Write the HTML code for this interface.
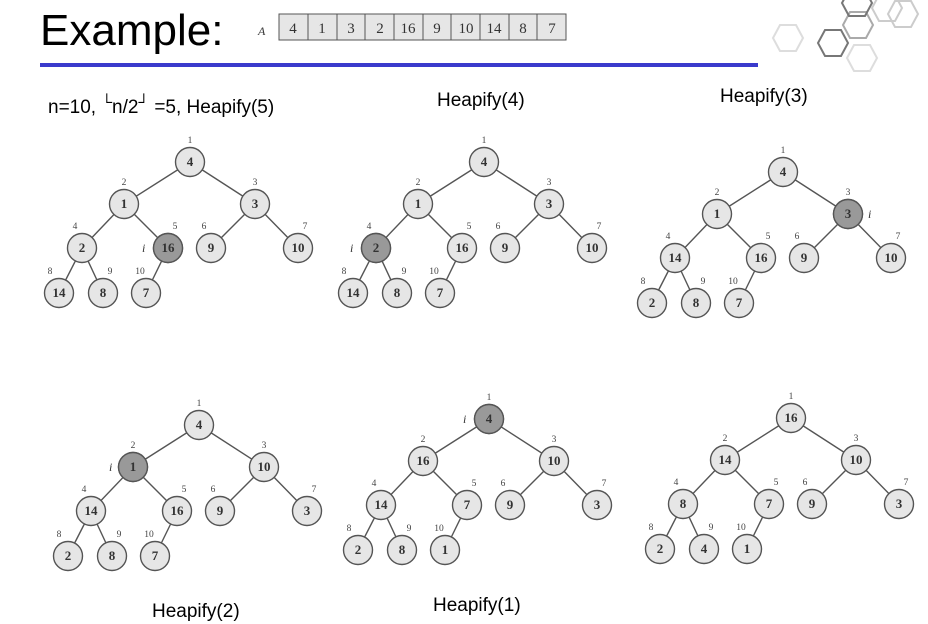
<!DOCTYPE html>
<html><head><meta charset="utf-8"><style>
html,body{margin:0;padding:0;background:#fff;}
svg{display:block;}
.t{font-family:"Liberation Serif",serif;font-weight:bold;font-size:13px;fill:#333;text-anchor:middle;}
.ix{font-family:"Liberation Serif",serif;font-size:9.5px;fill:#444;text-anchor:middle;}
.ii{font-family:"Liberation Serif",serif;font-style:italic;font-size:12px;fill:#333;}
.h{font-family:"Liberation Sans",sans-serif;font-size:19px;fill:#000;}
</style></head><body>
<svg width="928" height="624" viewBox="0 0 928 624" xmlns="http://www.w3.org/2000/svg">
<defs>
<g id="tree">
<g stroke="#555" stroke-width="1.4">
<line x1="0" y1="0" x2="-66" y2="42"/><line x1="0" y1="0" x2="65" y2="42"/>
<line x1="-66" y1="42" x2="-108" y2="86"/><line x1="-66" y1="42" x2="-22" y2="86"/>
<line x1="65" y1="42" x2="21" y2="86"/><line x1="65" y1="42" x2="108" y2="86"/>
<line x1="-108" y1="86" x2="-131" y2="131"/><line x1="-108" y1="86" x2="-87" y2="131"/>
<line x1="-22" y1="86" x2="-44" y2="131"/>
</g>
<g fill="#e6e6e6" stroke="#555" stroke-width="1.4">
<circle cx="0" cy="0" r="14.5"/><circle cx="-66" cy="42" r="14.5"/><circle cx="65" cy="42" r="14.5"/>
<circle cx="-108" cy="86" r="14.5"/><circle cx="-22" cy="86" r="14.5"/><circle cx="21" cy="86" r="14.5"/><circle cx="108" cy="86" r="14.5"/>
<circle cx="-131" cy="131" r="14.5"/><circle cx="-87" cy="131" r="14.5"/><circle cx="-44" cy="131" r="14.5"/>
</g>
<g class="ix">
<text x="0" y="-19">1</text><text x="-66" y="23">2</text><text x="65" y="23">3</text>
<text x="-115" y="67">4</text><text x="-15" y="67">5</text><text x="14" y="67">6</text><text x="115" y="67">7</text>
<text x="-140" y="112">8</text><text x="-80" y="112">9</text><text x="-50" y="112">10</text>
</g>
</g>
</defs>

<text x="40" y="45" font-family="Liberation Sans, sans-serif" font-size="44" fill="#000">Example:</text>
<text x="258" y="35" font-family="Liberation Serif, serif" font-style="italic" font-size="12" fill="#333">A</text>
<g fill="#e6e6e6" stroke="#555" stroke-width="1">
<rect x="279" y="14" width="287" height="26"/>
</g>
<g stroke="#555" stroke-width="1">
<line x1="308" y1="14" x2="308" y2="40"/><line x1="337" y1="14" x2="337" y2="40"/><line x1="365" y1="14" x2="365" y2="40"/>
<line x1="394" y1="14" x2="394" y2="40"/><line x1="423" y1="14" x2="423" y2="40"/><line x1="451" y1="14" x2="451" y2="40"/>
<line x1="480" y1="14" x2="480" y2="40"/><line x1="509" y1="14" x2="509" y2="40"/><line x1="537" y1="14" x2="537" y2="40"/>
</g>
<g font-family="Liberation Serif, serif" font-size="15" fill="#333" text-anchor="middle">
<text x="293" y="33">4</text><text x="322" y="33">1</text><text x="351" y="33">3</text><text x="380" y="33">2</text><text x="408" y="33">16</text>
<text x="437" y="33">9</text><text x="466" y="33">10</text><text x="494" y="33">14</text><text x="523" y="33">8</text><text x="552" y="33">7</text>
</g>
<rect x="40" y="63" width="718" height="4" fill="#3a3acc"/>

<g fill="none" stroke-width="2">
<polygon stroke="#ddd" points="773,38 780,25 796,25 803,38 796,51 780,51"/>
<polygon stroke="#777" points="818,43 825,30 841,30 848,43 841,56 825,56"/>
<polygon stroke="#aaa" points="843,25 850,12 866,12 873,25 866,38 850,38"/>
<polygon stroke="#777" points="842,3 849,-10 865,-10 872,3 865,16 849,16"/>
<polygon stroke="#ccc" points="888,14 895,1 911,1 918,14 911,27 895,27"/>
<polygon stroke="#ccc" points="872,8 879,-5 895,-5 902,8 895,21 879,21"/>
<polygon stroke="#ddd" points="847,58 854,45 870,45 877,58 870,71 854,71"/>
</g>

<text class="h" x="48" y="113">n=10,  <tspan font-size="15" dy="-6">└</tspan><tspan dy="6">n/2</tspan><tspan font-size="15" dy="-6">┘</tspan><tspan dy="6"> =5, Heapify(5)</tspan></text>
<text class="h" x="437" y="106">Heapify(4)</text>
<text class="h" x="720" y="102">Heapify(3)</text>
<text class="h" x="152" y="617">Heapify(2)</text>
<text class="h" x="433" y="611">Heapify(1)</text>

<g transform="translate(190,162)">
<use href="#tree"/>
<circle cx="-22" cy="86" r="14.5" fill="#999" stroke="#555" stroke-width="1.4"/>
<text class="ii" x="-48" y="90">i</text>
<g class="t">
<text x="0" y="4">4</text><text x="-66" y="46">1</text><text x="65" y="46">3</text><text x="-108" y="90">2</text><text x="-22" y="90">16</text>
<text x="21" y="90">9</text><text x="108" y="90">10</text><text x="-131" y="135">14</text><text x="-87" y="135">8</text><text x="-44" y="135">7</text>
</g></g>
<g transform="translate(484,162)">
<use href="#tree"/>
<circle cx="-108" cy="86" r="14.5" fill="#999" stroke="#555" stroke-width="1.4"/>
<text class="ii" x="-134" y="90">i</text>
<g class="t">
<text x="0" y="4">4</text><text x="-66" y="46">1</text><text x="65" y="46">3</text><text x="-108" y="90">2</text><text x="-22" y="90">16</text>
<text x="21" y="90">9</text><text x="108" y="90">10</text><text x="-131" y="135">14</text><text x="-87" y="135">8</text><text x="-44" y="135">7</text>
</g></g>
<g transform="translate(783,172)">
<use href="#tree"/>
<circle cx="65" cy="42" r="14.5" fill="#999" stroke="#555" stroke-width="1.4"/>
<text class="ii" x="85" y="46">i</text>
<g class="t">
<text x="0" y="4">4</text><text x="-66" y="46">1</text><text x="65" y="46">3</text><text x="-108" y="90">14</text><text x="-22" y="90">16</text>
<text x="21" y="90">9</text><text x="108" y="90">10</text><text x="-131" y="135">2</text><text x="-87" y="135">8</text><text x="-44" y="135">7</text>
</g></g>
<g transform="translate(199,425)">
<use href="#tree"/>
<circle cx="-66" cy="42" r="14.5" fill="#999" stroke="#555" stroke-width="1.4"/>
<text class="ii" x="-90" y="46">i</text>
<g class="t">
<text x="0" y="4">4</text><text x="-66" y="46">1</text><text x="65" y="46">10</text><text x="-108" y="90">14</text><text x="-22" y="90">16</text>
<text x="21" y="90">9</text><text x="108" y="90">3</text><text x="-131" y="135">2</text><text x="-87" y="135">8</text><text x="-44" y="135">7</text>
</g></g>
<g transform="translate(489,419)">
<use href="#tree"/>
<circle cx="0" cy="0" r="14.5" fill="#999" stroke="#555" stroke-width="1.4"/>
<text class="ii" x="-26" y="4">i</text>
<g class="t">
<text x="0" y="4">4</text><text x="-66" y="46">16</text><text x="65" y="46">10</text><text x="-108" y="90">14</text><text x="-22" y="90">7</text>
<text x="21" y="90">9</text><text x="108" y="90">3</text><text x="-131" y="135">2</text><text x="-87" y="135">8</text><text x="-44" y="135">1</text>
</g></g>
<g transform="translate(791,418)">
<use href="#tree"/>
<g class="t">
<text x="0" y="4">16</text><text x="-66" y="46">14</text><text x="65" y="46">10</text><text x="-108" y="90">8</text><text x="-22" y="90">7</text>
<text x="21" y="90">9</text><text x="108" y="90">3</text><text x="-131" y="135">2</text><text x="-87" y="135">4</text><text x="-44" y="135">1</text>
</g></g>
</svg>
</body></html>
